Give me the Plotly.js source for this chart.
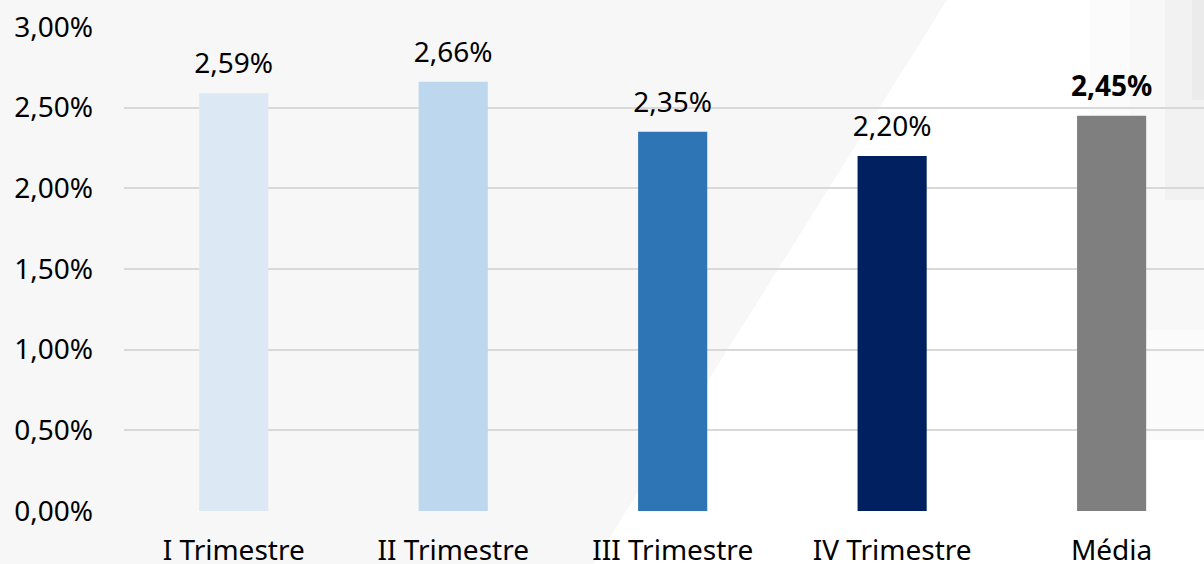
<!DOCTYPE html>
<html>
<head>
<meta charset="utf-8">
<script src="https://cdn.plot.ly/plotly-3.0.1.min.js"></script>
<style>html,body{margin:0;padding:0;background:#fff;}#chart{width:1204px;height:564px;}</style>
</head>
<body>
<div id="chart"></div>
<script>
const categories = ["I Trimestre", "II Trimestre", "III Trimestre", "IV Trimestre", "Média"];
const values = [2.59, 2.66, 2.35, 2.20, 2.45];
const barColors = ["#dde8f5", "#bdd7ee", "#2e75b6", "#002060", "#7f7f7f"];
const boldLabel = [false, false, false, false, true];
const yTicks = [0, 0.5, 1, 1.5, 2, 2.5, 3];
const yTickText = ["0,00%", "0,50%", "1,00%", "1,50%", "2,00%", "2,50%", "3,00%"];

const FONT = "'Noto Sans', 'Open Sans', sans-serif";
const labels = values.map((v, i) => {
  const s = v.toFixed(2).replace('.', ',') + '%';
  return boldLabel[i] ? '<b>' + s + '</b>' : s;
});

// plot area in pixels: left 124, right 1204, top 27, bottom 511
const L = 124, R = 1204, T = 27, B = 511;
const px = x => (x - L) / (R - L);
const py = y => (B - y) / (B - T);

const shapes = [
  {type: 'path', xref: 'paper', yref: 'paper', layer: 'below', line: {width: 0}, fillcolor: '#f7f7f7',
   path: `M ${px(0)} ${py(0)} L ${px(947)} ${py(0)} L ${px(593)} ${py(564)} L ${px(0)} ${py(564)} Z`},
  {type: 'rect', xref: 'paper', yref: 'paper', layer: 'below', line: {width: 0}, fillcolor: 'rgba(235,235,235,0.18)',
   x0: px(1090), x1: px(1204), y0: py(440), y1: py(0)},
  {type: 'rect', xref: 'paper', yref: 'paper', layer: 'below', line: {width: 0}, fillcolor: 'rgba(235,235,235,0.22)',
   x0: px(1130), x1: px(1204), y0: py(330), y1: py(0)},
  {type: 'rect', xref: 'paper', yref: 'paper', layer: 'below', line: {width: 0}, fillcolor: 'rgba(230,230,230,0.3)',
   x0: px(1165), x1: px(1204), y0: py(200), y1: py(0)},
  {type: 'rect', xref: 'paper', yref: 'paper', layer: 'below', line: {width: 0}, fillcolor: 'rgba(225,225,225,0.4)',
   x0: px(1192), x1: px(1204), y0: py(100), y1: py(0)}
];

const data = [
  {type: 'bar', x: categories, y: values, marker: {color: barColors, line: {width: 0}}, width: 0.315,
   hoverinfo: 'none'},
  {type: 'scatter', mode: 'markers+text', x: categories, y: values, text: labels, textposition: 'top center',
   textfont: {family: FONT, size: 28, color: '#000'}, marker: {size: 19, opacity: 0}, cliponaxis: false,
   hoverinfo: 'none'}
];

const layout = {
  width: 1204, height: 564,
  margin: {l: L, r: 1204 - R, t: T, b: 564 - B, pad: 0},
  paper_bgcolor: '#ffffff', plot_bgcolor: 'rgba(0,0,0,0)',
  showlegend: false,
  font: {family: FONT, color: '#000', size: 28},
  shapes: shapes,
  xaxis: {
    type: 'category', range: [-0.5, 4.421], showgrid: false, zeroline: false, showline: false,
    ticks: '', tickfont: {family: FONT, size: 28, color: '#000'}, ticklabelstandoff: 20, fixedrange: true
  },
  yaxis: {
    range: [0, 3], tickvals: yTicks, ticktext: yTickText, showgrid: true, gridcolor: '#d9d9d9', gridwidth: 2,
    zeroline: false, showline: false, ticks: '', ticklabelstandoff: 30,
    tickfont: {family: FONT, size: 28, color: '#000'}, fixedrange: true
  }
};

Plotly.newPlot('chart', data, layout, {displayModeBar: false, staticPlot: true});
</script>
</body>
</html>
